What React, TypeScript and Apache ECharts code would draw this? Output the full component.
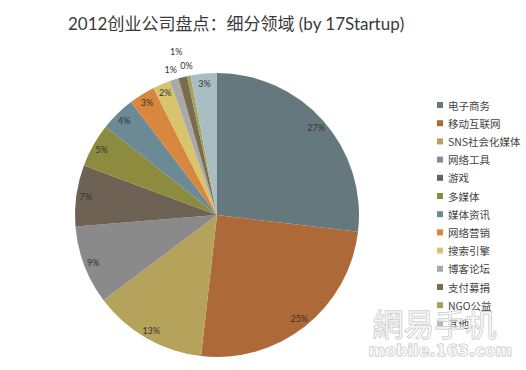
import React, { useEffect, useRef } from "react";
import * as echarts from "echarts";

const titleText = "2012创业公司盘点：细分领域 (by 17Startup)";
const categories = [
  "电子商务",
  "移动互联网",
  "SNS社会化媒体",
  "网络工具",
  "游戏",
  "多媒体",
  "媒体资讯",
  "网络营销",
  "搜索引擎",
  "博客论坛",
  "支付募捐",
  "NGO公益",
  "其他",
];
const values = [27, 25, 13, 9, 7, 5, 4, 3, 2, 1, 1, 0.4, 3];
const colors = [
  "#65787e",
  "#ad6a38",
  "#b5a35c",
  "#8a8a8a",
  "#6e6254",
  "#8d8c3e",
  "#6b8a95",
  "#d9873f",
  "#d8c46c",
  "#a9a9a9",
  "#7b6c4d",
  "#a3a257",
  "#aabdc3",
];
// slices whose labels sit outside the pie
const outerNear = ["博客论坛", "NGO公益"];
const outerFar = ["支付募捐"];

export default function App() {
  const ref = useRef<HTMLDivElement>(null);
  useEffect(() => {
    document.body.style.margin = "0";
    const chart = echarts.init(ref.current!, undefined, { renderer: "svg" });
    const cx = 217;
    const cy = 215;
    const R = 142;
    const fmt = (p: any) => Math.round(p.value) + "%";
    const labelStyle = {
      fontSize: 9,
      color: "#333",
      fontFamily: "Lato, 'Noto Sans', sans-serif",
      formatter: fmt,
    };
    const mkLabelData = (showSet: (n: string) => boolean) =>
      categories.map((n, i) => ({
        name: n,
        value: values[i],
        label: { show: showSet(n) },
      }));
    const overlayBase = {
      type: "pie",
      center: [cx, cy],
      startAngle: 90,
      silent: true,
      avoidLabelOverlap: false,
      itemStyle: { color: "rgba(0,0,0,0)" },
      emphasis: { disabled: true },
      labelLine: { show: false },
    };
    chart.setOption({
      animation: false,
      backgroundColor: "#ffffff",
      title: {
        text: titleText,
        left: 63,
        top: 10,
        textStyle: {
          fontSize: 17,
          fontWeight: "normal",
          color: "#3a3a3a",
          fontFamily: "Lato, 'Noto Sans CJK SC', sans-serif",
        },
      },
      legend: {
        orient: "vertical",
        left: 432,
        top: 94,
        icon: "rect",
        itemWidth: 6,
        itemHeight: 6,
        itemGap: 6.2,
        selectedMode: false,
        textStyle: {
          fontSize: 10.5,
          lineHeight: 12,
          color: "#444",
          fontFamily: "'Noto Sans CJK SC', sans-serif",
        },
        data: categories.map((n, i) => ({ name: n, itemStyle: { color: colors[i] } })),
      },
      series: [
        {
          type: "pie",
          center: [cx, cy],
          radius: [0, R],
          startAngle: 90,
          silent: true,
          label: { show: false },
          labelLine: { show: false },
          itemStyle: { borderWidth: 0 },
          emphasis: { disabled: true },
          data: categories.map((n, i) => ({
            name: n,
            value: values[i],
            itemStyle: { color: colors[i] },
          })),
        },
        {
          ...overlayBase,
          radius: [117, R],
          label: { ...labelStyle, position: "inside" },
          data: mkLabelData((n) => !outerNear.includes(n) && !outerFar.includes(n)),
        },
        {
          ...overlayBase,
          radius: [R, 158],
          label: { ...labelStyle, position: "inside" },
          data: mkLabelData((n) => outerNear.includes(n)),
        },
        {
          ...overlayBase,
          radius: [R, 190],
          label: { ...labelStyle, position: "inside" },
          data: mkLabelData((n) => outerFar.includes(n)),
        },
      ],
      graphic: [
        {
          type: "text",
          left: 372,
          top: 306,
          z: 100,
          silent: true,
          style: {
            text: "網易手机",
            fontSize: 31,
            fontFamily: "'Noto Sans CJK TC', sans-serif",
            fill: "rgba(255,255,255,0.5)",
            stroke: "#c4c4c4",
            lineWidth: 1,
          },
        },
        {
          type: "text",
          left: 368,
          top: 342,
          z: 100,
          silent: true,
          style: {
            text: "mobile.163.com",
            fontSize: 16,
            fontWeight: "bold",
            fontFamily: "'DejaVu Sans', sans-serif",
            fill: "rgba(255,255,255,0.5)",
            stroke: "#c4c4c4",
            lineWidth: 1,
          },
        },
      ],
    });
    return () => chart.dispose();
  }, []);
  return <div ref={ref} style={{ width: 526, height: 370 }} />;
}
